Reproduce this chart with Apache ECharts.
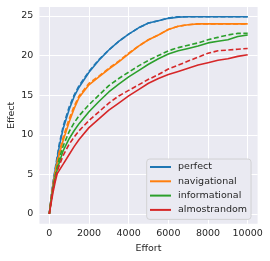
<!DOCTYPE html>
<html>
<head>
<meta charset="utf-8">
<script src="https://cdn.jsdelivr.net/npm/echarts@6/dist/echarts.min.js"></script>
<style>html,body{margin:0;padding:0;background:#fff}#c{width:270px;height:261px}</style>
</head>
<body>
<div id="c"></div>
<script>
var effort = [0,100,200,300,400,500,700,1000,1250,1500,2000,2500,3000,3500,4000,4500,5000,5500,6000,6500,7000,7500,8000,8500,9000,9500,10000];
var perfect        = [0,2.2,4.0,5.6,7.0,8.5,10.8,13.2,14.8,16.0,17.9,19.4,20.7,21.8,22.7,23.5,24.1,24.4,24.7,24.85,24.9,24.9,24.9,24.9,24.9,24.9,24.9];
var perfectDash    = [0,2.3,4.2,5.8,7.3,8.8,11.1,13.5,15.0,16.2,18.0,19.5,20.7,21.8,22.7,23.5,24.1,24.4,24.75,24.9,24.9,24.9,24.9,24.9,24.9,24.9,24.9];
var navigational   = [0,2.0,3.7,5.2,6.4,7.5,9.3,11.6,13.3,14.7,16.3,17.3,18.3,19.2,20.2,21.2,22.0,22.6,23.3,23.7,23.9,24.0,24.0,24.0,24.0,24.0,24.0];
var navigationalDash=[0,2.1,3.9,5.4,6.7,7.8,9.7,12.0,13.6,14.9,16.5,17.4,18.4,19.3,20.3,21.2,22.0,22.6,23.3,23.7,23.9,24.0,24.0,24.0,24.0,24.0,24.0];
var informational  = [0,1.8,3.3,4.6,5.6,6.5,8.0,9.5,10.5,11.4,12.9,14.2,15.4,16.4,17.3,18.1,18.9,19.6,20.2,20.6,20.9,21.2,21.6,21.8,22.0,22.4,22.6];
var informationalDash=[0,1.9,3.5,4.9,6.0,7.0,8.6,10.4,11.5,12.4,13.8,15.0,16.2,17.1,17.9,18.7,19.4,20.0,20.6,21.0,21.3,21.6,22.0,22.3,22.6,22.8,22.8];
var almostrandom   = [0,1.5,2.9,4.1,5.1,5.5,6.3,7.5,8.5,9.4,10.9,12.0,13.1,14.0,14.9,15.7,16.5,17.1,17.6,18.0,18.4,18.8,19.1,19.4,19.6,19.9,20.1];
var almostrandomDash=[0,1.8,3.3,4.5,5.4,6.1,7.4,8.8,9.7,10.5,11.8,12.9,14.0,14.9,15.6,16.3,17.0,17.6,18.3,18.8,19.3,19.8,20.3,20.6,20.7,20.8,20.9];
var xTicks = [0,2000,4000,6000,8000,10000];
var yTicks = [0,5,10,15,20,25];
var names = ['perfect','navigational','informational','almostrandom'];
var colors = ['#1f77b4','#ff7f0e','#2ca02c','#d62728'];

function pairs(ys){ return effort.map(function(x,i){ return [x, ys[i]]; }); }
var solids = [perfect, navigational, informational, almostrandom];
var dashes = [perfectDash, navigationalDash, informationalDash, almostrandomDash];
var series = [];
for (var i = 0; i < 4; i++) {
  series.push({name: names[i], type:'line', data: pairs(solids[i]), showSymbol:false, symbol:'none',
    lineStyle:{color:colors[i], width:1.6}, itemStyle:{color:colors[i]}, z:2});
  series.push({name: names[i] + '_dash', type:'line', data: pairs(dashes[i]), showSymbol:false, symbol:'none',
    lineStyle:{color:colors[i], width:1.6, type:[5,2.5]}, itemStyle:{color:colors[i]}, z:2});
}
var font = 'DejaVu Sans';
var chart = echarts.init(document.getElementById('c'), null, {renderer:'canvas'});
chart.setOption({
  animation:false,
  textStyle:{fontFamily:font},
  grid:{left:39.4, right:12.4, top:6.9, bottom:37.2, show:true, backgroundColor:'#eaeaf2', borderWidth:0,
    containLabel:false, outerBoundsMode:'none'},
  xAxis:{type:'value', min:-500, max:10500,
    name:'Effort', nameLocation:'middle', nameGap:19.5, nameMoveOverlap:false,
    nameTextStyle:{fontSize:9.5, color:'#262626', fontFamily:font},
    axisLine:{show:false}, axisTick:{show:false, customValues:xTicks},
    axisLabel:{customValues:xTicks, fontSize:9.5, color:'#262626', margin:5, fontFamily:font,
      formatter:function(v){ return String(v); }},
    splitLine:{show:true, lineStyle:{color:'#ffffff', width:1}}},
  yAxis:{type:'value', min:-1.245, max:26.145,
    name:'Effect', nameLocation:'middle', nameGap:23, nameRotate:90, nameMoveOverlap:false,
    nameTextStyle:{fontSize:9.5, color:'#262626', fontFamily:font},
    axisLine:{show:false}, axisTick:{show:false, customValues:yTicks},
    axisLabel:{customValues:yTicks, fontSize:9.5, color:'#262626', margin:6, fontFamily:font,
      formatter:function(v){ return String(v); }},
    splitLine:{show:true, lineStyle:{color:'#ffffff', width:1}}},
  legend:{data:names, orient:'vertical', left:146.7, top:159, icon:'rect', itemWidth:21, itemHeight:2,
    itemGap:3.3, padding:[2.5,4,4,3.3], backgroundColor:'#eaeaf2', borderColor:'#cccccc', borderWidth:0.8, borderRadius:3,
    textStyle:{fontSize:9.5, color:'#262626', lineHeight:11, fontFamily:font, padding:[0,0,0,2]}},
  series:series
});
</script>
</body>
</html>
